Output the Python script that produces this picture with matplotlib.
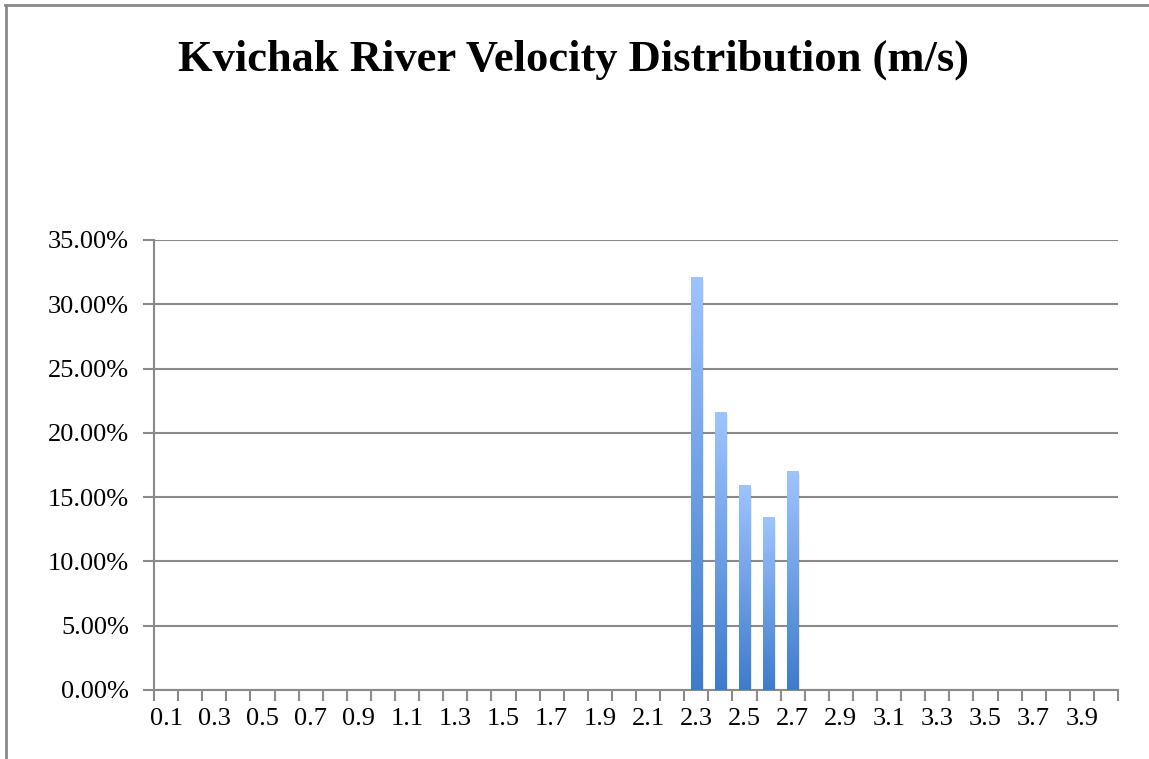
import numpy as np
import matplotlib.pyplot as plt
from matplotlib.lines import Line2D
from matplotlib.colors import LinearSegmentedColormap

# velocity classes 0.1 .. 4.0 m/s
categories = [f"{v / 10:.1f}" for v in range(1, 41)]
# share of measurements per class (only 2.3 - 2.7 are non-zero)
shares = [0.0] * 40
nonzero = {"2.3": 0.321, "2.4": 0.216, "2.5": 0.159, "2.6": 0.134, "2.7": 0.170}
for k, v in nonzero.items():
    shares[categories.index(k)] = v

title = "Kvichak River Velocity Distribution (m/s)"
yticks = [0.0, 0.05, 0.10, 0.15, 0.20, 0.25, 0.30, 0.35]

plt.rcParams['font.family'] = ['Liberation Serif', 'DejaVu Serif']

fig = plt.figure(figsize=(11.49, 7.59), dpi=100)
W, H = 1149, 759
ax = fig.add_axes([154 / W, 1 - 690 / H, (1118 - 154) / W, (690 - 240) / H])

x = np.arange(len(categories))
width = 0.46
grad = LinearSegmentedColormap.from_list("bar", ["#3d7bcc", "#9ec4ff"])
gimg = np.linspace(0, 1, 256).reshape(-1, 1)

bars = ax.bar(x, shares, width=width, color="none", zorder=3)
for b in bars:
    h = b.get_height()
    if h <= 0:
        continue
    x0 = b.get_x()
    # soft shadow
    ax.bar(x0 + width / 2 + 0.08, h - 0.002, width=width, bottom=0,
           color="#000000", alpha=0.08, zorder=2.5)
    ax.imshow(gimg, cmap=grad, origin="lower", aspect="auto",
              extent=(x0, x0 + width, 0, h), zorder=3)

ax.set_xlim(-0.5, len(categories) - 0.5)
ax.set_ylim(0, 0.35)

ax.set_yticks(yticks)
ax.set_yticklabels([f"{t * 100:.2f}%" for t in yticks])
ax.yaxis.grid(True, color="#8a8a8a", linewidth=1.5, zorder=0)
ax.set_axisbelow(True)

# category boundary ticks, labels on every other category
ax.set_xticks(np.arange(-0.5, len(categories) + 0.5, 1.0))
ax.set_xticklabels([])
ax.set_xticks(x[::2], minor=True)
ax.set_xticklabels(categories[::2], minor=True, fontsize=19)
ax.tick_params(axis="x", which="major", length=8, width=1.5, color="#8a8a8a", direction="out")
ax.tick_params(axis="x", which="minor", length=0, pad=13)
for lbl in ax.get_yticklabels():
    lbl.set_fontsize(19)
ax.tick_params(axis="y", length=8, width=1.5, color="#8a8a8a", direction="out", pad=10)

for s in ["top", "right"]:
    ax.spines[s].set_visible(False)
for s in ["left", "bottom"]:
    ax.spines[s].set_color("#8a8a8a")
    ax.spines[s].set_linewidth(1.5)

fig.text(573 / W, 1 - 60 / H, title, ha="center", va="center",
         fontsize=32, fontweight="bold")

# outer chart frame (top and left edges visible)
fig.add_artist(Line2D([5 / W, 1.0], [1 - 4.5 / H, 1 - 4.5 / H],
                      transform=fig.transFigure, color="#8a8a8a", lw=2))
fig.add_artist(Line2D([5.5 / W, 5.5 / W], [0, 1 - 4.5 / H],
                      transform=fig.transFigure, color="#8a8a8a", lw=2))

fig.savefig("out.png", dpi=100)
